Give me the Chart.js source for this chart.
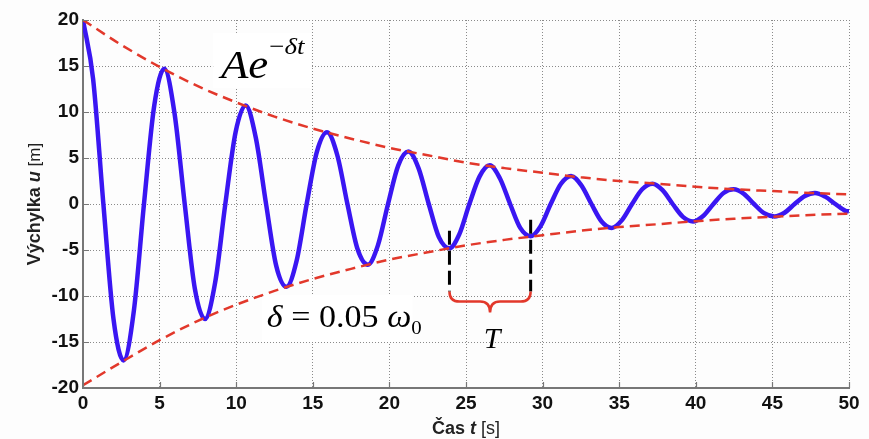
<!DOCTYPE html>
<html>
<head>
<meta charset="utf-8">
<script src="https://cdn.jsdelivr.net/npm/chart.js@4.4.1/dist/chart.umd.min.js"></script>
<style>
  html, body { margin: 0; padding: 0; background: #fdfdfd; }
  #wrap { width: 869px; height: 439px; }
</style>
</head>
<body>
<div id="wrap"><canvas id="c" width="869" height="439"></canvas></div>
<script>
// ---- data ----
const timeS = [0, 0.66, 1.33, 1.99, 2.65, 3.32, 3.98, 4.65, 5.31, 5.97, 6.64, 7.30, 7.96, 8.63, 9.29,
  9.96, 10.62, 11.28, 11.95, 12.61, 13.28, 13.94, 14.60, 15.27, 15.93, 16.60, 17.26, 17.92, 18.59,
  19.25, 19.91, 20.58, 21.24, 21.90, 22.57, 23.23, 23.92, 24.56, 25.22, 25.89, 26.55, 27.21, 27.88,
  28.54, 29.22, 29.87, 30.53, 31.20, 31.86, 32.52, 33.19, 33.85, 34.51, 35.18, 35.84, 36.50, 37.17,
  37.83, 38.49, 39.16, 39.82, 40.48, 41.15, 41.81, 42.47, 43.14, 43.80, 44.46, 45.13, 45.79, 46.45,
  47.12, 47.78, 48.44, 49.11, 49.77, 50];
const displacementM = [20, 13.6, 0, -12.5, -17.0, -11.6, 0, 10.7, 14.7, 9.9, 0, -9.2, -12.5, -8.5, 0,
  7.8, 10.7, 7.2, 0, -6.7, -9.0, -6.2, 0, 5.7, 7.8, 5.3, 0, -4.9, -6.6,
  -4.5, 0, 4.2, 5.7, 3.9, 0, -3.6, -4.8, -3.3, 0, 3.0, 4.2, 2.8, 0,
  -2.6, -3.5, -2.4, 0, 2.2, 3.05, 2.05, 0, -1.9, -2.6, -1.75, 0, 1.6, 2.2,
  1.5, 0, -1.4, -1.9, -1.3, 0, 1.2, 1.6, 1.1, 0, -1.0, -1.35, -0.95, 0,
  0.87, 1.2, 0.8, 0, -0.74, -0.8];
const envelopeT = [0, 2.5, 5, 7.5, 10, 12.5, 15, 17.5, 20, 22.5, 25, 27.5, 30, 32.5, 35, 37.5, 40, 42.5, 45, 47.5, 50];
const envelopeUpper = [20, 17.3, 14.9, 12.8, 11.05, 9.5, 8.2, 7.1, 6.1, 5.3, 4.5, 3.9, 3.4, 2.9, 2.5, 2.2, 1.87, 1.6, 1.4, 1.2, 1.05];
const envelopeLower = [-19.7, -17.2, -14.8, -12.7, -10.95, -9.45, -8.15, -7.05, -6.05, -5.25, -4.5, -3.9, -3.4, -2.9, -2.5, -2.2, -1.87, -1.6, -1.4, -1.2, -1.05];
const xTickValues = [0, 5, 10, 15, 20, 25, 30, 35, 40, 45, 50];
const yTickValues = [-20, -15, -10, -5, 0, 5, 10, 15, 20];
const periodStart = 23.92;   // trough marking start of T
const periodEnd = 29.22;     // next trough

// ---- styling ----
const BLUE = '#3a16f2';
const RED = '#e2382b';
const AXIS = '#777777';
const GRID = '#8a8a8a';
const TICK_FONT = { family: '"Liberation Sans", Arial, sans-serif', size: 19, weight: 'bold' };

const toXY = (xs, ys) => xs.map((x, i) => ({ x, y: ys[i] }));

function drawRich(ctx, parts, x, y, align) {
  let total = 0;
  parts.forEach(p => { ctx.font = p.font; total += ctx.measureText(p.text).width + (p.dx || 0); });
  let cx = align === 'center' ? x - total / 2 : x;
  parts.forEach(p => {
    ctx.font = p.font;
    cx += (p.dx || 0);
    ctx.fillText(p.text, cx, y + (p.dy || 0));
    cx += ctx.measureText(p.text).width;
  });
}

const decorPlugin = {
  id: 'decor',
  beforeDatasetsDraw(chart) {
    const { ctx, scales: { x, y } } = chart;
    ctx.save();
    ctx.fillStyle = '#ffffff';
    const box = (x0, x1, y0, y1) => {
      const px0 = x.getPixelForValue(x0), px1 = x.getPixelForValue(x1);
      const py0 = y.getPixelForValue(y0), py1 = y.getPixelForValue(y1);
      ctx.fillRect(px0, py0, px1 - px0, py1 - py0);
    };
    box(8.5, 14.9, 18.6, 12.6);
    box(11.7, 21.5, -9.9, -15.0);
    ctx.restore();
  },
  afterDatasetsDraw(chart) {
    const { ctx, scales: { x, y }, chartArea } = chart;
    ctx.save();
    // inward tick marks
    ctx.strokeStyle = AXIS;
    ctx.lineWidth = 1.2;
    ctx.beginPath();
    xTickValues.forEach(v => {
      const px = Math.round(x.getPixelForValue(v)) + 0.5;
      ctx.moveTo(px, chartArea.bottom);
      ctx.lineTo(px, chartArea.bottom - 6);
    });
    yTickValues.forEach(v => {
      const py = Math.round(y.getPixelForValue(v)) + 0.5;
      ctx.moveTo(chartArea.left, py);
      ctx.lineTo(chartArea.left + 6, py);
    });
    ctx.stroke();

    // period markers (black dashed)
    ctx.strokeStyle = '#000';
    ctx.lineWidth = 3;
    ctx.setLineDash([14, 6]);
    ctx.beginPath();
    const xa = x.getPixelForValue(periodStart), xb = x.getPixelForValue(periodEnd);
    ctx.moveTo(xa, y.getPixelForValue(-2.9));
    ctx.lineTo(xa, y.getPixelForValue(-9.5));
    ctx.moveTo(xb, y.getPixelForValue(-1.7));
    ctx.lineTo(xb, y.getPixelForValue(-9.5));
    ctx.stroke();
    ctx.setLineDash([]);

    // red brace
    const top = y.getPixelForValue(-9.5), bar = y.getPixelForValue(-10.6), tip = y.getPixelForValue(-11.8);
    const mid = (xa + xb) / 2, r = 10;
    ctx.strokeStyle = RED;
    ctx.lineWidth = 2.5;
    ctx.beginPath();
    ctx.moveTo(xa, top);
    ctx.quadraticCurveTo(xa, bar, xa + r, bar);
    ctx.lineTo(mid - r, bar);
    ctx.quadraticCurveTo(mid, bar, mid, tip);
    ctx.quadraticCurveTo(mid, bar, mid + r, bar);
    ctx.lineTo(xb - r, bar);
    ctx.quadraticCurveTo(xb, bar, xb, top);
    ctx.stroke();

    // math labels
    ctx.fillStyle = '#000';
    ctx.textBaseline = 'alphabetic';
    const serif = '"Liberation Serif", "Times New Roman", serif';
    ctx.save();
    const ax = x.getPixelForValue(9.0), ay = y.getPixelForValue(13.7);
    ctx.translate(ax, ay);
    ctx.scale(1.12, 1);
    drawRich(ctx, [
      { text: 'Ae', font: 'italic 40px ' + serif },
      { text: '\u2212', font: '24px ' + serif, dy: -24, dx: 1 },
      { text: '\u03b4t', font: 'italic 24px ' + serif, dy: -24 }
    ], 0, 0, 'left');
    ctx.restore();
    ctx.save();
    const dx = x.getPixelForValue(12.0), dy = y.getPixelForValue(-13.4);
    ctx.translate(dx, dy);
    ctx.scale(1.1, 1);
    drawRich(ctx, [
      { text: '\u03b4', font: 'italic 31px ' + serif },
      { text: ' = 0.05 ', font: '31px ' + serif },
      { text: '\u03c9', font: 'italic 31px ' + serif },
      { text: '0', font: '19px ' + serif, dy: 7 }
    ], 0, 0, 'left');
    ctx.restore();
    ctx.font = 'italic 30px ' + serif;
    ctx.textAlign = 'center';
    ctx.fillText('T', mid + 2, y.getPixelForValue(-15.6));
    ctx.textAlign = 'left';

    // axis titles
    const sans = '"Liberation Sans", Arial, sans-serif';
    ctx.fillStyle = '#222';
    const cxT = (chartArea.left + chartArea.right) / 2;
    drawRich(ctx, [
      { text: 'Čas ', font: 'bold 18px ' + sans },
      { text: 't', font: 'italic bold 18px ' + sans },
      { text: ' [s]', font: '18px ' + sans }
    ], cxT, 434, 'center');
    ctx.save();
    ctx.translate(40, (chartArea.top + chartArea.bottom) / 2);
    ctx.rotate(-Math.PI / 2);
    drawRich(ctx, [
      { text: 'Výchylka ', font: 'bold 18px ' + sans },
      { text: 'u', font: 'italic bold 18px ' + sans },
      { text: ' [m]', font: '17px ' + sans }
    ], 0, 0, 'center');
    ctx.restore();
    ctx.restore();
  }
};

const bgPlugin = {
  id: 'bg',
  beforeDraw(chart) {
    const { ctx } = chart;
    ctx.save();
    ctx.fillStyle = '#fdfdfd';
    ctx.fillRect(0, 0, chart.width, chart.height);
    ctx.restore();
  }
};

new Chart(document.getElementById('c'), {
  type: 'line',
  data: {
    datasets: [
      {
        label: 'u(t)',
        data: toXY(timeS, displacementM),
        borderColor: BLUE,
        borderWidth: 4.5,
        pointRadius: 0,
        cubicInterpolationMode: 'monotone',
        order: 1
      },
      {
        label: 'upper',
        data: toXY(envelopeT, envelopeUpper),
        borderColor: RED,
        borderWidth: 2.5,
        borderDash: [10, 6],
        pointRadius: 0,
        cubicInterpolationMode: 'monotone',
        order: 0
      },
      {
        label: 'lower',
        data: toXY(envelopeT, envelopeLower),
        borderColor: RED,
        borderWidth: 2.5,
        borderDash: [10, 6],
        pointRadius: 0,
        cubicInterpolationMode: 'monotone',
        order: 0
      }
    ]
  },
  options: {
    responsive: false,
    animation: false,
    devicePixelRatio: 1,
    layout: { padding: { top: 20, right: 20, left: 0, bottom: 0 } },
    plugins: { legend: { display: false }, tooltip: { enabled: false } },
    scales: {
      x: {
        type: 'linear',
        min: 0, max: 50,
        afterFit(s) { s.height = 51; },
        afterBuildTicks(s) { s.ticks = xTickValues.map(v => ({ value: v })); },
        ticks: { color: '#111', font: TICK_FONT, padding: 4, maxRotation: 0 },
        grid: { color: GRID, lineWidth: 1, drawTicks: false },
        border: { display: true, color: AXIS, width: 2, dash: [1, 2] }
      },
      y: {
        type: 'linear',
        min: -20, max: 20,
        afterFit(s) { s.width = 83; },
        afterBuildTicks(s) { s.ticks = yTickValues.map(v => ({ value: v })); },
        ticks: { color: '#111', font: TICK_FONT, padding: 4 },
        grid: { color: GRID, lineWidth: 1, drawTicks: false },
        border: { display: true, color: AXIS, width: 2, dash: [1, 2] }
      }
    }
  },
  plugins: [bgPlugin, decorPlugin]
});
</script>
</body>
</html>
